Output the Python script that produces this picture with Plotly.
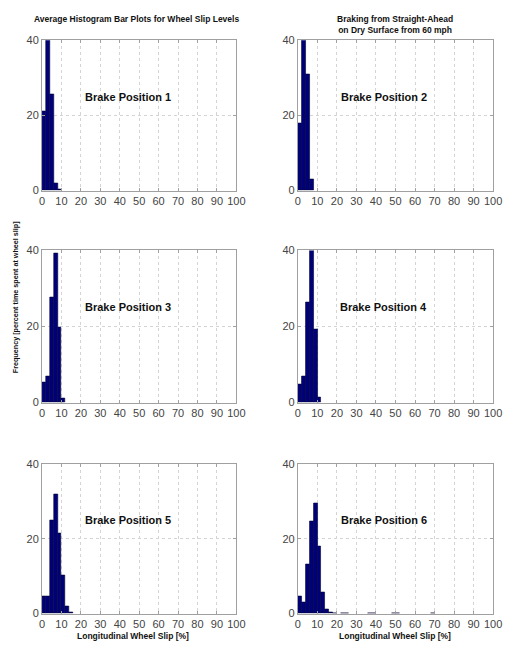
import plotly.graph_objects as go

# Histogram bins: 2 % wide, values are percent of braking time per bin
bin_width = 2
centers_p1 = [1, 3, 5, 7, 9]
freq_p1 = [21.0, 51.0, 25.5, 2.0, 0.3]

centers_p2 = [1, 3, 5, 7]
freq_p2 = [18.0, 48.0, 31.0, 3.0]

centers_p3 = [1, 3, 5, 7, 9, 11]
freq_p3 = [5.3, 7.0, 27.7, 39.3, 19.7, 1.2]

centers_p4 = [1, 3, 5, 7, 9, 11]
freq_p4 = [4.8, 6.8, 26.2, 41.5, 19.3, 1.4]

centers_p5 = [1, 3, 5, 7, 9, 11, 13, 15]
freq_p5 = [4.5, 4.5, 25.0, 32.0, 21.5, 10.2, 1.8, 0.3]

centers_p6 = [1, 3, 5, 7, 9, 11, 13, 15, 17, 19, 23, 25, 37, 39, 49, 51, 69]
freq_p6 = [4.5, 3.0, 13.2, 24.7, 29.5, 18.0, 5.8, 1.2, 0.3, 0.15, 0.1, 0.1,
           0.1, 0.1, 0.1, 0.1, 0.1]

panel_labels = ["Brake Position 1", "Brake Position 2", "Brake Position 3",
                "Brake Position 4", "Brake Position 5", "Brake Position 6"]
x_ticks = list(range(0, 101, 10))
y_ticks = [0, 20, 40]

title_left = "Average Histogram Bar Plots for Wheel Slip Levels"
title_right = "Braking from Straight-Ahead<br>on Dry Surface from 60 mph"
y_title = "Frequency [percent time spent at wheel slip]"
x_title = "Longitudinal Wheel Slip [%]"

W, H = 507, 649
FONT = "Liberation Sans, Arial, sans-serif"
BAR = "#00007a"

# pixel boxes of the six axes (left, right, top, bottom)
cols = [(40, 239), (302, 502)]
rows = [(35, 188), (249, 404), (467, 619)]

series = [(centers_p1, freq_p1), (centers_p2, freq_p2), (centers_p3, freq_p3),
          (centers_p4, freq_p4), (centers_p5, freq_p5), (centers_p6, freq_p6)]

fig = go.Figure()
annotations = []
for i, (cx, fy) in enumerate(series):
    r, c = divmod(i, 2)
    n = "" if i == 0 else str(i + 1)
    xa, ya = "x" + n, "y" + n
    fig.add_trace(go.Bar(
        x=cx, y=fy, width=[bin_width] * len(cx), xaxis=xa, yaxis=ya,
        marker=dict(color=BAR, line=dict(color="#000033", width=0.6)),
        showlegend=False, hoverinfo="x+y"))
    l, rt = cols[c]
    t, b = rows[r]
    common = dict(showline=True, linecolor="#a0a0a0", linewidth=1, mirror="ticks",
                  ticks="inside", ticklen=3, tickcolor="#a0a0a0",
                  showgrid=True, gridcolor="#d4d4d4", griddash="dot", gridwidth=1,
                  zeroline=False, tickfont=dict(family=FONT, size=11, color="#444"))
    fig.layout["xaxis" + n] = dict(
        domain=[l / W, rt / W], anchor=ya, range=[0, 100],
        tickvals=x_ticks, **common)
    fig.layout["yaxis" + n] = dict(
        domain=[1 - b / H, 1 - t / H], anchor=xa, range=[0, 40],
        tickvals=y_ticks, **common)
    annotations.append(dict(
        x=44, y=25, xref=xa, yref=ya, text="<b>" + panel_labels[i] + "</b>",
        xanchor="center", yanchor="middle",
        showarrow=False, font=dict(family=FONT, size=11, color="#111")))

def paper_text(px, py, text, size, angle=0):
    return dict(x=px / W, y=1 - py / H, xref="paper", yref="paper",
                xanchor="center", yanchor="middle", textangle=angle,
                text="<b>" + text + "</b>", showarrow=False,
                font=dict(family=FONT, size=size, color="#111"))

annotations += [
    paper_text(137, 13, title_left, 8.5),
    paper_text(402, 19, title_right, 8.5),
    paper_text(13, 297, y_title, 7.2, angle=-90),
    paper_text(133, 642, x_title, 8.5),
    paper_text(402, 642, x_title, 8.5),
]

fig.update_layout(
    width=W, height=H, margin=dict(l=0, r=0, t=0, b=0),
    paper_bgcolor="white", plot_bgcolor="white",
    bargap=0, annotations=annotations,
)

fig.write_html("out.html")
